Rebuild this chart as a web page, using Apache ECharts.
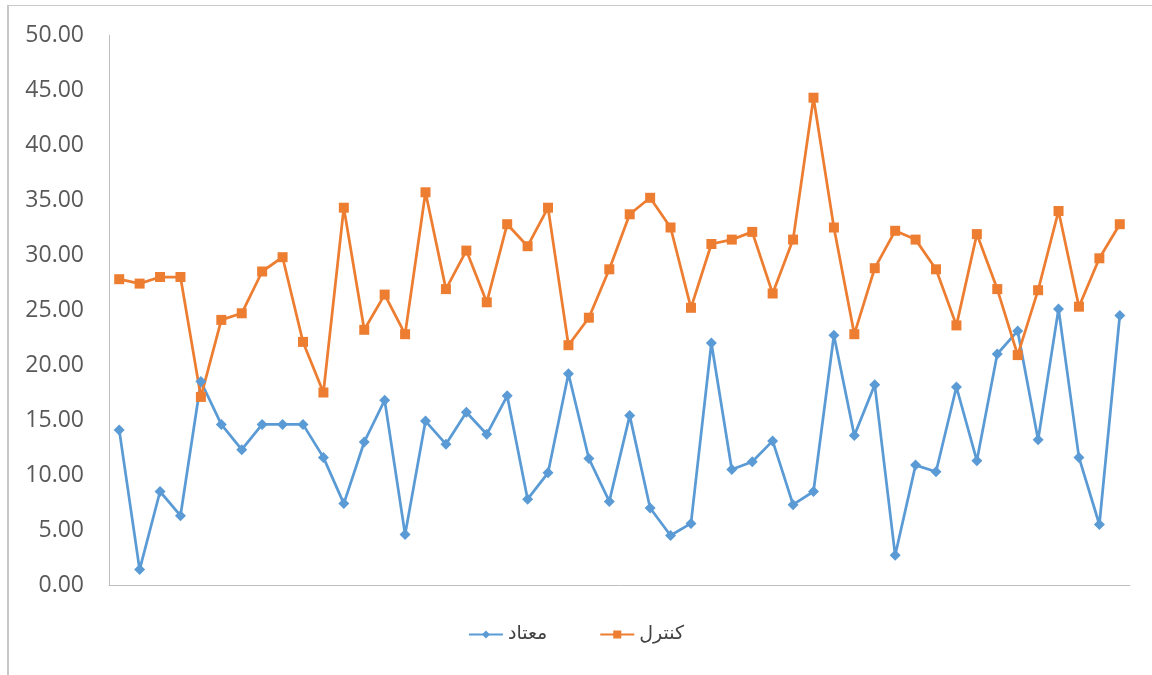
<!DOCTYPE html>
<html>
<head>
<meta charset="utf-8">
<script src="https://cdn.jsdelivr.net/npm/echarts@6/dist/echarts.min.js"></script>
<style>
  html, body { margin: 0; padding: 0; background: #fff; }
  #frame {
    position: absolute; left: 7px; top: 5px; width: 1145px; height: 670px;
    border-top: 1px solid #c8c8c8; border-left: 2px solid #c8c8c8;
    box-sizing: border-box;
  }
  #chart { position: absolute; left: 0; top: 0; width: 1152px; height: 675px; }
</style>
</head>
<body>
<div id="frame"></div>
<div id="chart"></div>
<script>
// 50 samples, no x labels shown in the original
let categories = []
for (let i = 1; i <= 50; i++) categories.push(String(i))

// معتاد (blue diamonds)
let addictData = [
  14.1, 1.4, 8.5, 6.3, 18.5, 14.6, 12.3, 14.6, 14.6, 14.6,
  11.6, 7.4, 13.0, 16.8, 4.6, 14.9, 12.8, 15.7, 13.7, 17.2,
  7.8, 10.2, 19.2, 11.5, 7.6, 15.4, 7.0, 4.5, 5.6, 22.0,
  10.5, 11.2, 13.1, 7.3, 8.5, 22.7, 13.6, 18.2, 2.7, 10.9,
  10.3, 18.0, 11.3, 21.0, 23.1, 13.2, 25.1, 11.6, 5.5, 24.5
]

// کنترل (orange squares)
let controlData = [
  27.8, 27.4, 28.0, 28.0, 17.1, 24.1, 24.7, 28.5, 29.8, 22.1,
  17.5, 34.3, 23.2, 26.4, 22.8, 35.7, 26.9, 30.4, 25.7, 32.8,
  30.8, 34.3, 21.8, 24.3, 28.7, 33.7, 35.2, 32.5, 25.2, 31.0,
  31.4, 32.1, 26.5, 31.4, 44.3, 32.5, 22.8, 28.8, 32.2, 31.4,
  28.7, 23.6, 31.9, 26.9, 20.9, 26.8, 34.0, 25.3, 29.7, 32.8
]

let seriesNames = ['معتاد', 'کنترل']
let colors = ['#5b9bd5', '#ed7d31']

let option = {
  animation: false,
  textStyle: { fontFamily: 'DejaVu Sans' },
  grid: { left: 109, right: 22, top: 35, bottom: 90 },
  legend: {
    data: seriesNames,
    bottom: 26,
    left: 'center',
    itemWidth: 34,
    itemHeight: 10,
    itemGap: 52,
    textStyle: { fontSize: 19, color: '#404040', fontFamily: 'DejaVu Sans' }
  },
  xAxis: {
    type: 'category',
    data: categories,
    boundaryGap: true,
    axisLine: { lineStyle: { color: '#bfbfbf', width: 1 } },
    axisTick: { show: false },
    axisLabel: { show: false }
  },
  yAxis: {
    type: 'value',
    min: 0,
    max: 50,
    interval: 5,
    splitLine: { show: false },
    axisLine: { show: true, lineStyle: { color: '#bfbfbf', width: 1 } },
    axisTick: { show: false },
    axisLabel: {
      margin: 25,
      fontSize: 23,
      color: '#595959',
      fontFamily: 'Open Sans',
      formatter: v => v.toFixed(2)
    }
  },
  series: [
    {
      name: seriesNames[0],
      type: 'line',
      data: addictData,
      symbol: 'diamond',
      symbolSize: 11,
      color: colors[0],
      lineStyle: { width: 2.75, color: colors[0] },
      itemStyle: { color: colors[0] }
    },
    {
      name: seriesNames[1],
      type: 'line',
      data: controlData,
      symbol: 'rect',
      symbolSize: 10,
      color: colors[1],
      lineStyle: { width: 2.75, color: colors[1] },
      itemStyle: { color: colors[1] }
    }
  ]
}

let chartDom = echarts.init(document.querySelector('#chart'))
chartDom.setOption(option)
</script>
</body>
</html>
